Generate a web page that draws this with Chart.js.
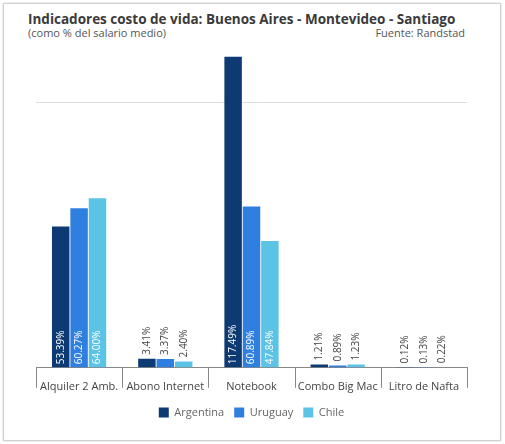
<!DOCTYPE html>
<html><head><meta charset="utf-8">
<script src="https://cdn.jsdelivr.net/npm/chart.js@4"></script>
<style>
body{margin:0;background:#fff;font-family:"Open Sans",sans-serif}
#frame{position:absolute;left:3px;top:3px;width:496px;height:436px;border:1px solid #d0d0d0;box-shadow:0 0 2px #ccc}
#t{position:absolute;left:28px;top:10px;font-size:13.5px;font-weight:bold;color:#3a3a3a}
#s{position:absolute;left:28px;top:25px;font-size:11px;color:#555}
#f{position:absolute;right:40px;top:25px;font-size:11px;color:#555}
canvas{position:absolute;left:0;top:0}
</style></head><body>
<div id="frame"></div>
<div id="t">Indicadores costo de vida: Buenos Aires - Montevideo - Santiago</div>
<div id="s">(como % del salario medio)</div>
<div id="f">Fuente: Randstad</div>
<div style="position:absolute;left:0;top:0;width:505px;height:444px"><canvas id="c"></canvas></div>
<script>
const categories=["Alquiler 2 Amb.","Abono Internet","Notebook","Combo Big Mac","Litro de Nafta"];
const argentina=[53.39,3.41,117.49,1.21,0.12];
const uruguay=[60.27,3.37,60.89,0.89,0.13];
const chile=[64.00,2.40,47.84,1.23,0.22];
const labelPlugin={id:'lbl',afterDatasetsDraw(ch){
 const ctx=ch.ctx;ctx.save();ctx.font='10px "Open Sans"';ctx.textBaseline='middle';
 ch.data.datasets.forEach((ds,i)=>{ch.getDatasetMeta(i).data.forEach((b,j)=>{
  const txt=ds.data[j].toFixed(2)+'%';const h=b.base-b.y;
  ctx.save();
  if(h>45){ctx.translate(b.x,b.base-3);ctx.rotate(-Math.PI/2);ctx.fillStyle='#fff';ctx.textAlign='left';}
  else{ctx.translate(b.x,b.y-4);ctx.rotate(-Math.PI/2);ctx.fillStyle='#444';ctx.textAlign='left';}
  ctx.fillText(txt,0,0);ctx.restore();
 });});
 const xs=ch.scales.x,bot=ch.chartArea.bottom;
 ctx.strokeStyle='#888';ctx.lineWidth=1;
 for(let k=0;k<=categories.length;k++){const px=Math.round(xs.getPixelForValue(k-0.5))+0.5;
  ctx.beginPath();ctx.moveTo(px,bot);ctx.lineTo(px,bot+20);ctx.stroke();}
 ctx.restore();}};
new Chart(document.getElementById('c'),{type:'bar',
 data:{labels:categories,datasets:[
  {label:'Argentina',data:argentina,backgroundColor:'#0d3a73'},
  {label:'Uruguay',data:uruguay,backgroundColor:'#2f7fe0'},
  {label:'Chile',data:chile,backgroundColor:'#5bc3e6'}]},
 options:{responsive:true,maintainAspectRatio:false,animation:false,
  categoryPercentage:0.64,barPercentage:0.95,
  layout:{padding:{top:50,left:36,right:38,bottom:16}},
  plugins:{legend:{position:'bottom',labels:{boxWidth:10,boxHeight:10,color:'#666',font:{size:11,family:'Open Sans'},padding:10}},tooltip:{enabled:false}},
  scales:{
   x:{grid:{display:false},border:{color:'#888'},ticks:{color:'#444',font:{size:11,family:'Open Sans'},padding:4}},
   y:{min:0,max:120,ticks:{display:false,stepSize:100},border:{display:false},
      grid:{drawTicks:false,color:c=>c.tick&&c.tick.value===100?'#ddd':'rgba(0,0,0,0)'}}}},
 plugins:[labelPlugin]});
</script></body></html>
